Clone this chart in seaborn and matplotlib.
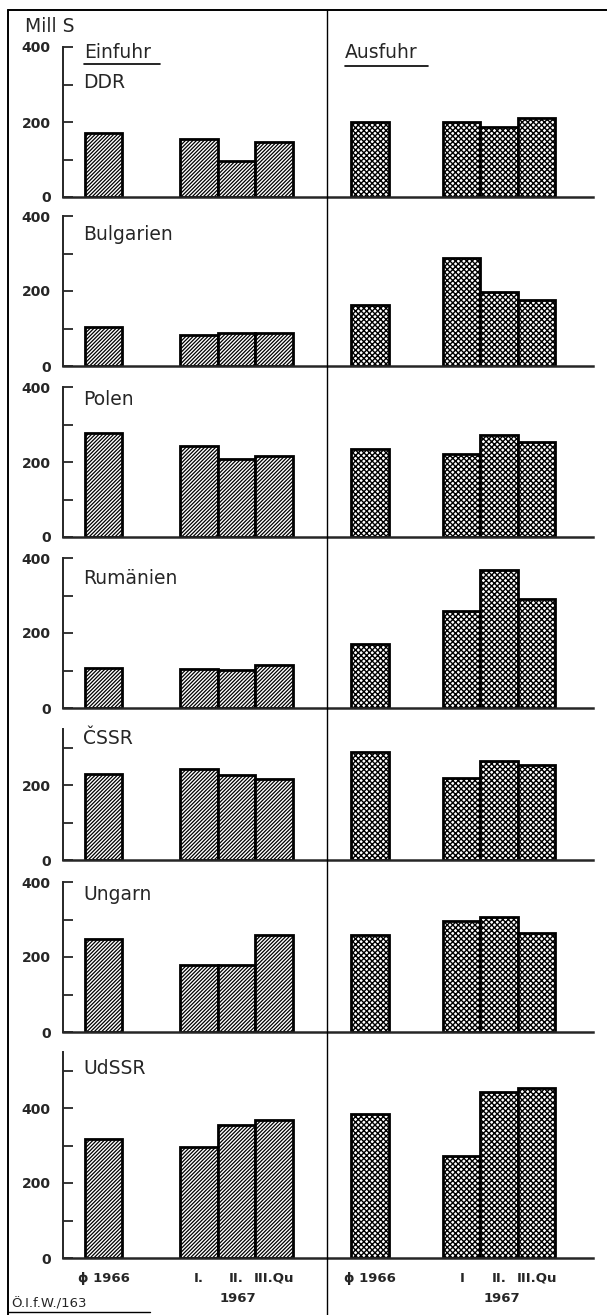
import pandas as pd
import seaborn as sns
import matplotlib
import matplotlib.pyplot as plt
from matplotlib.lines import Line2D

# Use a non-interactive backend
matplotlib.use('Agg')

# Data (Mill S)
countries = ["DDR", "Bulgarien", "Polen", "Rumänien", "ČSSR", "Ungarn", "UdSSR"]
periods_ein = ["ϕ 1966", "I.", "II.", "III.Qu"]
periods_aus = ["ϕ 1966", "I", "II.", "III.Qu"]
einfuhr = [
    [170, 155, 95, 148],
    [103, 82, 88, 87],
    [278, 243, 208, 217],
    [108, 103, 101, 114],
    [229, 244, 227, 215],
    [247, 178, 178, 258],
    [317, 297, 355, 369],
]
ausfuhr = [
    [200, 200, 187, 212],
    [162, 288, 198, 177],
    [236, 222, 272, 254],
    [170, 258, 368, 292],
    [287, 218, 264, 253],
    [258, 295, 308, 263],
    [384, 273, 444, 453],
]
y_top = [400, 400, 400, 400, 350, 400, 550]

# Layout in pixels of the 607x1315 picture
W, H = 607, 1315
x_ein = [0, 2.55, 3.55, 4.55]
x_aus = [7.1, 9.55, 10.55, 11.55]
baselines = [197, 366, 537, 708, 860, 1032, 1258]
label_y = [83, 234, 400, 578, 738, 895, 1069]
px_per_unit = 0.375
ax_left, ax_right = 63, 593


def fx(x):
    return x / W


def fy(y):
    return 1 - y / H


sns.set_theme(style="ticks")
plt.rcParams['font.family'] = ['DejaVu Sans']

fig = plt.figure(figsize=(W / 100, H / 100), dpi=100)

for i, country in enumerate(countries):
    bottom = baselines[i]
    height = y_top[i] * px_per_unit
    ax = fig.add_axes([fx(ax_left), fy(bottom), (ax_right - ax_left) / W, height / H])

    df_ein = pd.DataFrame({"pos": x_ein, "wert": einfuhr[i]})
    df_aus = pd.DataFrame({"pos": x_aus, "wert": ausfuhr[i]})
    plt.rcParams['hatch.linewidth'] = 0.9
    sns.barplot(data=df_ein, x="pos", y="wert", native_scale=True, width=1.0,
                color="white", saturation=1, edgecolor="black", linewidth=2.0,
                hatch="/" * 9, errorbar=None, ax=ax)
    plt.rcParams['hatch.linewidth'] = 1.0
    sns.barplot(data=df_aus, x="pos", y="wert", native_scale=True, width=1.0,
                color="white", saturation=1, edgecolor="black", linewidth=2.0,
                hatch="x" * 6, errorbar=None, ax=ax)

    ax.set_xlim(-1.08, 13.05)
    ax.set_ylim(0, y_top[i])
    ax.set_xlabel("")
    ax.set_ylabel("")
    ax.patch.set_alpha(0)
    for side in ["top", "right"]:
        ax.spines[side].set_visible(False)
    ax.spines["left"].set_linewidth(1.4)
    ax.spines["bottom"].set_linewidth(1.8)

    yt = list(range(0, y_top[i] + 1, 100))
    ax.set_yticks(yt)
    ax.set_yticklabels([str(v) if v % 200 == 0 else "" for v in yt],
                       fontweight="bold", fontsize=10)
    ax.tick_params(axis="y", direction="in", length=7, width=1.3, pad=9)

    if i == len(countries) - 1:
        ax.set_xticks(x_ein + x_aus)
        ax.set_xticklabels(periods_ein + periods_aus, fontweight="bold", fontsize=9.5)
        ax.tick_params(axis="x", length=0, pad=10)
    else:
        ax.set_xticks([])

    fig.text(fx(83), fy(label_y[i]), country, va="center", ha="left", fontsize=13.5)

# Header texts
fig.text(fx(25), fy(27), "Mill S", va="center", ha="left", fontsize=13.5)
fig.text(fx(84), fy(53), "Einfuhr", va="center", ha="left", fontsize=13.5)
fig.text(fx(345), fy(53), "Ausfuhr", va="center", ha="left", fontsize=13.5)
fig.add_artist(Line2D([fx(84), fx(160)], [fy(64), fy(64)], color="black", lw=1.2))
fig.add_artist(Line2D([fx(345), fx(428)], [fy(66), fy(66)], color="black", lw=1.2))

# Year under the quarters
fig.text(fx(238), fy(1298), "1967", va="center", ha="center", fontsize=9.5, fontweight="bold")
fig.text(fx(502), fy(1298), "1967", va="center", ha="center", fontsize=9.5, fontweight="bold")

# Source note
fig.text(fx(11), fy(1304), "Ö.I.f.W./163", va="center", ha="left", fontsize=9.5)
fig.add_artist(Line2D([fx(8), fx(150)], [fy(1312), fy(1312)], color="black", lw=1.0))

# Frame and centre divider
fig.add_artist(Line2D([fx(8), fx(8)], [fy(10), fy(1315)], color="black", lw=1.4))
fig.add_artist(Line2D([fx(8), 1], [fy(10), fy(10)], color="black", lw=1.4))
fig.add_artist(Line2D([fx(327), fx(327)], [fy(10), fy(1315)], color="black", lw=1.0))

fig.savefig("out.png", dpi=100)
plt.close(fig)
